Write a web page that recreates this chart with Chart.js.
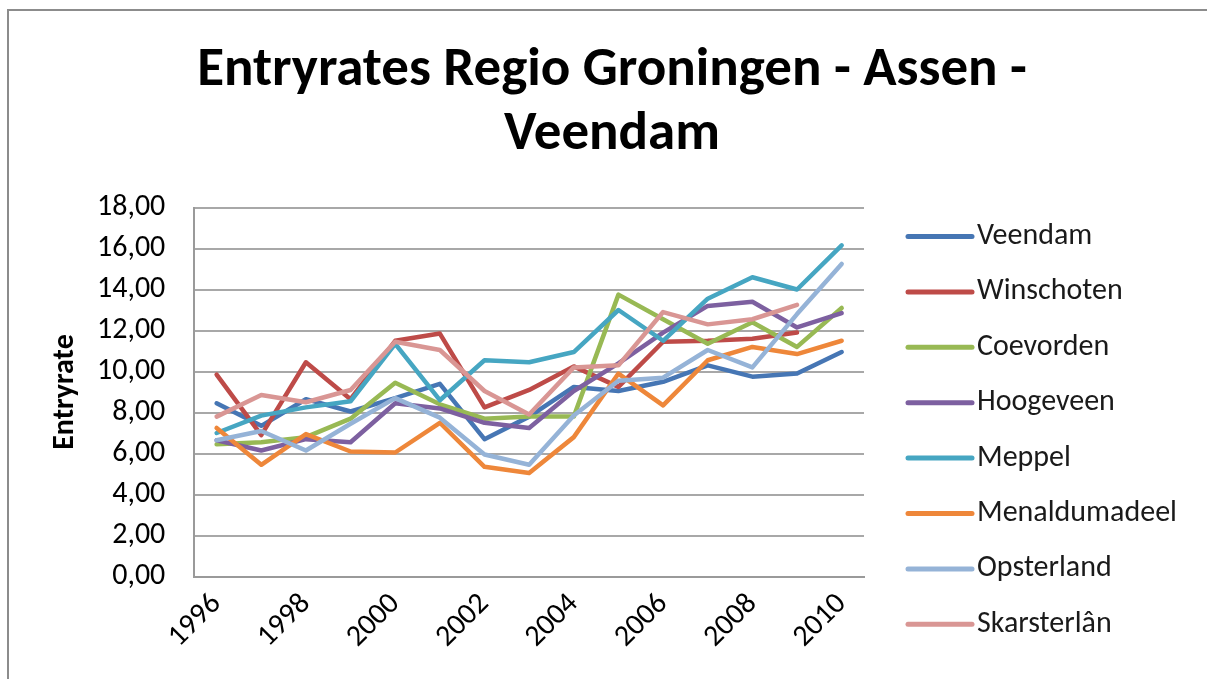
<!DOCTYPE html>
<html>
<head>
<meta charset="utf-8">
<script src="https://cdn.jsdelivr.net/npm/chart.js@4.4.1/dist/chart.umd.min.js"></script>
<style>
  html, body { margin: 0; padding: 0; background: #fff; overflow: hidden; }
  #wrap { position: relative; width: 1207px; height: 679px; }
  #frame {
    position: absolute; left: 7px; top: 9px; width: 1300px; height: 800px;
    border-left: 2px solid #8c8c8c; border-top: 2px solid #8c8c8c;
    pointer-events: none;
  }
</style>
</head>
<body>
<div id="wrap">
  <canvas id="entryChart" width="1207" height="679"></canvas>
  <div id="frame"></div>
</div>
<script>
// Entryrates per gemeente, 1996-2010
const years = ["1996", "1997", "1998", "1999", "2000", "2001", "2002", "2003",
  "2004", "2005", "2006", "2007", "2008", "2009", "2010"];

const veendam = [8.45, 7.35, 8.65, 8.05, 8.7, 9.4, 6.7, 7.8, 9.25, 9.05, 9.5, 10.3, 9.75, 9.9, 10.95];
const winschoten = [9.85, 6.9, 10.45, 8.65, 11.5, 11.85, 8.25, 9.1, 10.25, 9.25, 11.45, 11.5, 11.6, 11.9, null];
const coevorden = [6.45, 6.55, 6.8, 7.7, 9.45, 8.4, 7.7, 7.8, 7.8, 13.75, 12.55, 11.35, 12.4, 11.2, 13.1];
const hoogeveen = [6.65, 6.15, 6.7, 6.55, 8.45, 8.2, 7.5, 7.25, 9.05, 10.4, 11.9, 13.2, 13.4, 12.15, 12.85];
const meppel = [7.0, 7.85, 8.25, 8.55, 11.35, 8.6, 10.55, 10.45, 10.95, 13.0, 11.5, 13.55, 14.6, 14.0, 16.15];
const menaldumadeel = [7.25, 5.45, 6.95, 6.1, 6.05, 7.5, 5.35, 5.05, 6.8, 9.9, 8.35, 10.55, 11.2, 10.85, 11.5];
const opsterland = [6.65, 7.1, 6.15, 7.45, 8.7, 7.75, 5.95, 5.45, 7.85, 9.55, 9.7, 11.05, 10.2, 12.8, 15.25];
const skarsterlan = [7.8, 8.85, 8.5, 9.1, 11.45, 11.05, 9.05, 7.9, 10.2, 10.3, 12.9, 12.3, 12.55, 13.25, null];

const seriesNames = ["Veendam", "Winschoten", "Coevorden", "Hoogeveen", "Meppel",
  "Menaldumadeel", "Opsterland", "Skarsterlân"];
const seriesData = [veendam, winschoten, coevorden, hoogeveen, meppel,
  menaldumadeel, opsterland, skarsterlan];
const seriesColors = ["#4676b4", "#be4b48", "#98b954", "#7d60a0", "#46a6c2",
  "#ee873a", "#95b3d7", "#d99694"];

const yTicks = [0, 2, 4, 6, 8, 10, 12, 14, 16, 18];

const bodyFont = "'Carlito', 'Open Sans', sans-serif";

const datasets = seriesNames.map((name, i) => ({
  label: name,
  data: seriesData[i],
  borderColor: seriesColors[i],
  backgroundColor: seriesColors[i],
  borderWidth: 4.5,
  borderCapStyle: "round",
  borderJoinStyle: "round",
  pointRadius: 0,
  pointHoverRadius: 0,
  tension: 0,
  fill: false,
  yAxisID: "y",
  // later series on top, like the original
  order: seriesNames.length - i,
}));

// legend on the right, one row per series (the built-in one is capped in width)
const sideLegend = {
  id: "sideLegend",
  afterDraw(chart) {
    const c = chart.ctx;
    const area = chart.chartArea;
    const x0 = area.right + 44;
    const lineLen = 64;
    const step = 55.4;
    c.save();
    c.font = "30px " + bodyFont;
    c.textBaseline = "middle";
    c.textAlign = "left";
    chart.data.datasets.forEach((ds, i) => {
      const y = area.top + 29 + i * step;
      c.strokeStyle = ds.borderColor;
      c.lineWidth = 5;
      c.lineCap = "round";
      c.beginPath();
      c.moveTo(x0, y);
      c.lineTo(x0 + lineLen, y);
      c.stroke();
      c.fillStyle = "#1a1a1a";
      c.fillText(ds.label, x0 + lineLen + 5, y);
    });
    c.restore();
  },
};

const ctx = document.getElementById("entryChart").getContext("2d");

new Chart(ctx, {
  type: "line",
  data: { labels: years, datasets: datasets },
  plugins: [sideLegend],
  options: {
    responsive: false,
    animation: false,
    layout: { padding: { left: 47, right: 30, top: 0, bottom: 14 } },
    plugins: {
      tooltip: { enabled: false },
      legend: { display: false },
      title: {
        display: true,
        text: ["Entryrates Regio Groningen - Assen -", "Veendam"],
        color: "#000",
        font: { family: "'Carlito', 'Liberation Sans Narrow', sans-serif", size: 55, weight: "bold", lineHeight: 1.15 },
        padding: { top: 40, bottom: 41 },
      },
    },
    scales: {
      x: {
        type: "category",
        offset: true,
        grid: { display: false, drawTicks: false },
        border: { display: true, color: "#9a9a9a", width: 2 },
        ticks: {
          autoSkip: false,
          minRotation: 45,
          maxRotation: 45,
          padding: 10,
          color: "#000",
          font: { family: bodyFont, size: 30 },
          callback: function (value, index) {
            return index % 2 === 0 ? this.getLabelForValue(value) : "";
          },
        },
      },
      y: {
        min: 0,
        max: 18,
        afterBuildTicks: (scale) => {
          scale.ticks = yTicks.map((v) => ({ value: v }));
        },
        grid: { color: "#a8a8a8", lineWidth: 2, drawTicks: false },
        border: { display: true, color: "#9a9a9a", width: 2 },
        ticks: {
          padding: 29,
          color: "#000",
          font: { family: bodyFont, size: 30 },
          callback: (v) => v.toFixed(2).replace(".", ","),
        },
        title: {
          display: true,
          text: "Entryrate",
          color: "#000",
          font: { family: bodyFont, size: 30, weight: "bold" },
          padding: { top: 0, bottom: -15 },
        },
      },
      // empty axis that keeps room for the legend on the right
      legendRoom: {
        type: "linear",
        position: "right",
        display: true,
        grid: { display: false, drawTicks: false },
        border: { display: false },
        ticks: { display: false },
        afterFit: (scale) => { scale.width = 313; },
      },
    },
  },
});
</script>
</body>
</html>
